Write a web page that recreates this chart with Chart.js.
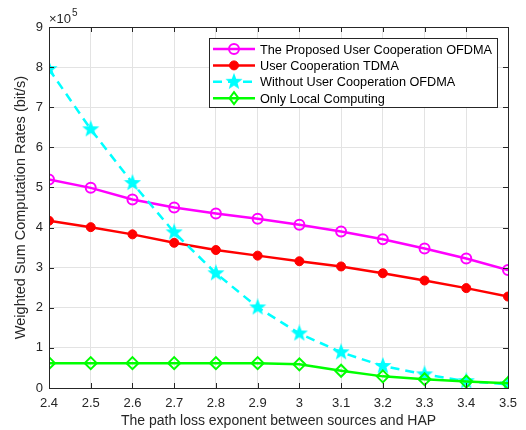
<!DOCTYPE html>
<html>
<head>
<meta charset="utf-8">
<script src="https://cdn.jsdelivr.net/npm/chart.js@4"></script>
<style>
  html, body { margin: 0; padding: 0; background: #fff; }
  #wrap { width: 526px; height: 430px; }
</style>
</head>
<body>
<div id="wrap"><canvas id="c" width="526" height="430"></canvas></div>
<script>
// path loss exponent values (x axis)
const exponents = [2.4, 2.5, 2.6, 2.7, 2.8, 2.9, 3.0, 3.1, 3.2, 3.3, 3.4, 3.5];

// weighted sum computation rates, bit/s
const proposedOfdma = [520000, 499000, 470000, 450000, 435000, 422000, 407000, 390000, 371000, 348000, 323000, 294000];
const coopTdma      = [417000, 401000, 383000, 362000, 344000, 330000, 316000, 303000, 286000, 268000, 249000, 228000];
const noCoopOfdma   = [795000, 645000, 511000, 388000, 286000, 201000, 136000, 89000, 55000, 34000, 17000, 9000];
const localOnly     = [62000, 62000, 62000, 62000, 62000, 62000, 59000, 43000, 29000, 22000, 16000, 12000];

const seriesNames = [
  'The Proposed User Cooperation OFDMA',
  'User Cooperation TDMA',
  'Without User Cooperation OFDMA',
  'Only Local Computing'
];

const FONT = '"Liberation Sans", Arial, sans-serif';
const AXIS = '#262626';

// filled five point star used as the marker of the cyan curve
function makeStar(size, color) {
  const cv = document.createElement('canvas');
  cv.width = size; cv.height = size;
  const g = cv.getContext('2d');
  const cx = size / 2, cy = size / 2, ro = size / 2, ri = ro * 0.42;
  g.beginPath();
  for (let i = 0; i < 10; i++) {
    const r = i % 2 === 0 ? ro : ri;
    const a = -Math.PI / 2 + i * Math.PI / 5;
    g.lineTo(cx + r * Math.cos(a), cy + r * Math.sin(a));
  }
  g.closePath();
  g.fillStyle = color;
  g.fill();
  return cv;
}
const starImg = makeStar(18, '#00ffff');

// inward ticks on all four sides, the x10^5 multiplier and the legend box
const matlabDecor = {
  id: 'matlabDecor',
  afterDraw(chart) {
    const { ctx, chartArea: a, scales } = chart;
    ctx.save();
    ctx.strokeStyle = AXIS;
    ctx.lineWidth = 1;
    ctx.beginPath();
    scales.x.ticks.forEach(t => {
      const px = Math.round(scales.x.getPixelForValue(t.value)) + 0.5;
      ctx.moveTo(px, a.bottom); ctx.lineTo(px, a.bottom - 5);
      ctx.moveTo(px, a.top); ctx.lineTo(px, a.top + 5);
    });
    scales.y.ticks.forEach(t => {
      const py = Math.round(scales.y.getPixelForValue(t.value)) + 0.5;
      ctx.moveTo(a.left, py); ctx.lineTo(a.left + 5, py);
      ctx.moveTo(a.right, py); ctx.lineTo(a.right - 5, py);
    });
    ctx.stroke();
    ctx.strokeRect(a.left + 0.5, a.top + 0.5, a.right - a.left, a.bottom - a.top);

    // exponent label
    ctx.fillStyle = AXIS;
    ctx.textBaseline = 'alphabetic';
    ctx.font = '13px ' + FONT;
    ctx.fillText('\u00d710', a.left, a.top - 4);
    const w = ctx.measureText('\u00d710').width;
    ctx.font = '10px ' + FONT;
    ctx.fillText('5', a.left + w + 1, a.top - 11);

    // legend
    const lx = 209, ly = 38, lw = 288, lh = 69, row = 16.4;
    ctx.fillStyle = '#fff';
    ctx.fillRect(lx, ly, lw, lh);
    ctx.strokeStyle = AXIS;
    ctx.strokeRect(lx + 0.5, ly + 0.5, lw, lh);
    ctx.font = '12.7px ' + FONT;
    ctx.textBaseline = 'middle';
    chart.data.datasets.forEach((ds, i) => {
      const y = ly + 11 + i * row;
      const x0 = lx + 4, x1 = lx + 46, xm = (x0 + x1) / 2;
      ctx.save();
      ctx.strokeStyle = ds.borderColor;
      ctx.lineWidth = 2.5;
      ctx.setLineDash(ds.borderDash || []);
      ctx.beginPath(); ctx.moveTo(x0, y); ctx.lineTo(x1, y); ctx.stroke();
      ctx.setLineDash([]);
      if (ds.pointStyle === 'circle') {
        ctx.beginPath(); ctx.arc(xm, y, ds.pointRadius, 0, Math.PI * 2);
        ctx.fillStyle = ds.pointBackgroundColor;
        ctx.lineWidth = ds.pointBorderWidth;
        ctx.strokeStyle = ds.pointBorderColor;
        if (ds.pointBackgroundColor !== 'transparent') ctx.fill();
        ctx.stroke();
      } else if (ds.pointStyle === 'rectRot') {
        const r = ds.pointRadius;
        ctx.beginPath();
        ctx.moveTo(xm, y - r); ctx.lineTo(xm + r * 0.75, y);
        ctx.lineTo(xm, y + r); ctx.lineTo(xm - r * 0.75, y); ctx.closePath();
        ctx.lineWidth = ds.pointBorderWidth;
        ctx.strokeStyle = ds.pointBorderColor;
        ctx.stroke();
      } else {
        ctx.drawImage(starImg, xm - 9, y - 9);
      }
      ctx.restore();
      ctx.fillStyle = '#000';
      ctx.fillText(seriesNames[i], lx + 51, y + 1);
    });
    ctx.restore();
  }
};

new Chart(document.getElementById('c').getContext('2d'), {
  type: 'line',
  data: {
    labels: exponents,
    datasets: [
      {
        label: seriesNames[0],
        data: proposedOfdma,
        borderColor: '#ff00ff',
        borderWidth: 2.5,
        pointStyle: 'circle',
        pointRadius: 5,
        pointBorderWidth: 2,
        pointBorderColor: '#ff00ff',
        pointBackgroundColor: 'transparent',
        order: 4
      },
      {
        label: seriesNames[1],
        data: coopTdma,
        borderColor: '#ff0000',
        borderWidth: 2.5,
        pointStyle: 'circle',
        pointRadius: 4.5,
        pointBorderWidth: 1,
        pointBorderColor: '#ff0000',
        pointBackgroundColor: '#ff0000',
        order: 3
      },
      {
        label: seriesNames[2],
        data: noCoopOfdma,
        borderColor: '#00ffff',
        borderWidth: 2.5,
        borderDash: [9, 6],
        pointStyle: starImg,
        pointRadius: 9,
        order: 2
      },
      {
        label: seriesNames[3],
        data: localOnly,
        borderColor: '#00ff00',
        borderWidth: 2.5,
        pointStyle: 'rectRot',
        pointRadius: 6,
        pointBorderWidth: 2,
        pointBorderColor: '#00ff00',
        pointBackgroundColor: 'transparent',
        order: 1
      }
    ]
  },
  options: {
    responsive: false,
    animation: false,
    layout: { padding: { top: 27, right: 18, left: 0, bottom: 0 } },
    plugins: { legend: { display: false }, tooltip: { enabled: false } },
    elements: { line: { tension: 0 } },
    scales: {
      x: {
        type: 'linear',
        min: 2.4,
        max: 3.5,
        ticks: {
          stepSize: 0.1,
          color: AXIS,
          font: { family: FONT, size: 13 },
          padding: 8,
          callback: v => Math.round(v * 10) / 10
        },
        grid: { color: '#e3e3e3', drawTicks: false },
        border: { display: false },
        title: {
          display: true,
          text: 'The path loss exponent between sources and HAP',
          color: AXIS,
          font: { family: FONT, size: 14 },
          padding: { top: 0, bottom: 0 }
        },
        afterFit: s => { s.height = 42; }
      },
      y: {
        min: 0,
        max: 900000,
        ticks: {
          stepSize: 100000,
          color: AXIS,
          font: { family: FONT, size: 13 },
          padding: 6,
          callback: v => v / 100000
        },
        grid: { color: '#e3e3e3', drawTicks: false },
        border: { display: false },
        title: {
          display: true,
          text: 'Weighted Sum Computation Rates (bit/s)',
          color: AXIS,
          font: { family: FONT, size: 14.5 },
          padding: { top: 12, bottom: 0 }
        },
        afterFit: s => { s.width = 49; }
      }
    }
  },
  plugins: [matlabDecor]
});
</script>
</body>
</html>
